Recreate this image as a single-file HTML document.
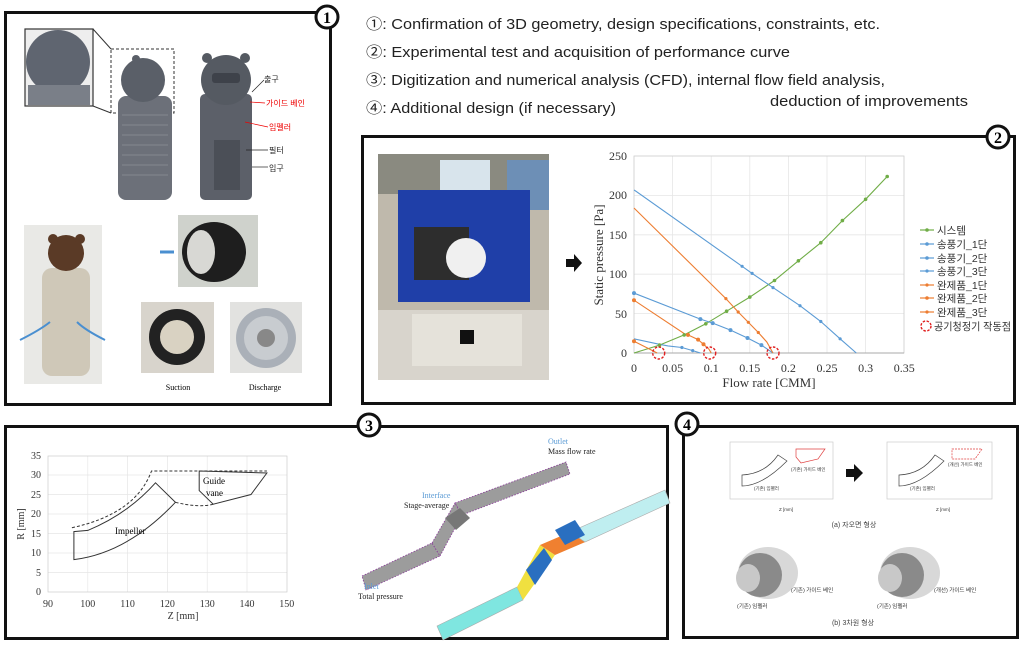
<!DOCTYPE html>
<html><head><meta charset="utf-8"><style>
html,body{margin:0;padding:0;background:#fff;width:1024px;height:645px;overflow:hidden}
svg{display:block}
.s{font-family:"Liberation Serif",serif}
.k{font-family:"Liberation Sans","Noto Sans CJK KR",sans-serif}
</style></head><body>
<svg width="1024" height="645" viewBox="0 0 1024 645" xmlns="http://www.w3.org/2000/svg">
<rect width="1024" height="645" fill="#fff"/>

<!-- Top text -->
<g class="k" font-size="15" fill="#222">
<text x="366" y="29" textLength="514" lengthAdjust="spacingAndGlyphs">①: Confirmation of 3D geometry, design specifications, constraints, etc.</text>
<text x="366" y="57" textLength="424" lengthAdjust="spacingAndGlyphs">②: Experimental test and acquisition of performance curve</text>
<text x="366" y="85" textLength="519" lengthAdjust="spacingAndGlyphs">③: Digitization and numerical analysis (CFD), internal flow field analysis,</text>
<text x="770" y="106" textLength="198" lengthAdjust="spacingAndGlyphs">deduction of improvements</text>
<text x="366" y="113" textLength="250" lengthAdjust="spacingAndGlyphs">④: Additional design (if necessary)</text>
</g>

<!-- Panel 1 -->
<rect x="5.5" y="12.5" width="325" height="392" fill="none" stroke="#111" stroke-width="3"/>
<circle cx="327" cy="17" r="11" fill="#fff" stroke="#111" stroke-width="3"/>
<text x="327" y="23" class="s" font-size="16" font-weight="bold" text-anchor="middle">1</text>
<rect x="25" y="29" width="68" height="77" fill="#eee" stroke="#333" stroke-width="1.2"/>
<circle cx="58" cy="62" r="32" fill="#5f6570"/>
<rect x="28" y="85" width="62" height="20" fill="#7a7f88"/>
<line x1="93" y1="29" x2="111" y2="49" stroke="#333"/><line x1="93" y1="106" x2="111" y2="113" stroke="#333"/>
<rect x="111" y="49" width="63" height="64" fill="none" stroke="#333" stroke-dasharray="3,2"/>
<rect x="118" y="96" width="54" height="104" rx="8" fill="#6c7079"/>
<g stroke="#9aa0a8" stroke-width="0.6">
<line x1="122" y1="115" x2="168" y2="115"/><line x1="122" y1="125" x2="168" y2="125"/><line x1="122" y1="135" x2="168" y2="135"/><line x1="122" y1="145" x2="168" y2="145"/><line x1="122" y1="155" x2="168" y2="155"/><line x1="122" y1="165" x2="168" y2="165"/><line x1="122" y1="175" x2="168" y2="175"/>
</g>
<circle cx="143" cy="80" r="22" fill="#5a5f68"/>
<circle cx="136" cy="59" r="4" fill="#5a5f68"/>
<rect x="200" y="94" width="52" height="106" rx="5" fill="#5c6069"/>
<circle cx="226" cy="80" r="25" fill="#555a62"/>
<circle cx="207" cy="58" r="5" fill="#555a62"/><circle cx="245" cy="58" r="5" fill="#555a62"/>
<rect x="212" y="73" width="28" height="10" rx="3" fill="#3e424a"/>
<rect x="214" y="140" width="26" height="50" fill="#4b4f57"/>
<g class="k" font-size="8">
<text x="264" y="82" fill="#222">출구</text>
<text x="266" y="106" fill="#e00">가이드 베인</text>
<text x="269" y="130" fill="#e00">임펠러</text>
<text x="269" y="153" fill="#222">필터</text>
<text x="269" y="171" fill="#222">입구</text>
</g>
<g stroke="#222" stroke-width="0.7"><line x1="252" y1="92" x2="264" y2="80"/><line x1="252" y1="167" x2="268" y2="167"/><line x1="246" y1="150" x2="268" y2="150"/></g>
<g stroke="#e00" stroke-width="0.7"><line x1="250" y1="102" x2="265" y2="103"/><line x1="245" y1="122" x2="268" y2="127"/></g>
<rect x="24" y="225" width="78" height="159" fill="#e9e9e6"/>
<rect x="42" y="268" width="48" height="108" rx="10" fill="#cfc8b8"/>
<circle cx="66" cy="253" r="18" fill="#5a3a26"/>
<circle cx="53" cy="239" r="5" fill="#5a3a26"/><circle cx="80" cy="239" r="5" fill="#5a3a26"/>
<path d="M20 340 Q40 330 50 322 M105 340 Q85 330 77 322" stroke="#4a8fd0" stroke-width="2" fill="none"/>
<rect x="178" y="215" width="80" height="72" fill="#cfd2cc"/>
<ellipse cx="214" cy="252" rx="32" ry="30" fill="#1e1e1e"/>
<ellipse cx="201" cy="252" rx="14" ry="22" fill="#d8d8d4"/>
<path d="M160 252 H174" stroke="#4a8fd0" stroke-width="3"/>
<rect x="141" y="302" width="73" height="71" fill="#d8d4cc"/>
<circle cx="177" cy="337" r="28" fill="#222"/><circle cx="177" cy="337" r="17" fill="#d9d2c2"/>
<rect x="230" y="302" width="72" height="71" fill="#e2e2e0"/>
<circle cx="266" cy="338" r="30" fill="#aab0b8"/><circle cx="266" cy="338" r="22" fill="#c8ccd0"/><circle cx="266" cy="338" r="9" fill="#888"/>
<text x="178" y="390" class="s" font-size="8" text-anchor="middle">Suction</text>
<text x="265" y="390" class="s" font-size="8" text-anchor="middle">Discharge</text>

<!-- Panel 2 -->
<rect x="362.5" y="136.5" width="652" height="267" fill="none" stroke="#111" stroke-width="3"/>
<circle cx="998" cy="137" r="11" fill="#fff" stroke="#111" stroke-width="3"/>
<text x="998" y="143" class="s" font-size="16" font-weight="bold" text-anchor="middle">2</text>
<rect x="378" y="154" width="171" height="226" fill="#bfb9ac"/>
<rect x="378" y="154" width="171" height="40" fill="#8a8a80"/>
<rect x="440" y="160" width="50" height="35" fill="#d8e4ec"/>
<rect x="507" y="160" width="42" height="50" fill="#6d8fb6"/>
<rect x="378" y="310" width="171" height="70" fill="#d8d4cc"/>
<rect x="398" y="190" width="132" height="112" fill="#1f3fa8"/>
<rect x="414" y="227" width="55" height="53" fill="#2d2d2d"/>
<circle cx="466" cy="258" r="20" fill="#f0f0f0"/>
<rect x="412" y="314" width="110" height="52" fill="#e5e2da"/>
<rect x="460" y="330" width="14" height="14" fill="#111"/>
<path d="M566 259 H574 V254 L582 263 L574 272 V267 H566 Z" fill="#111"/>
<g stroke="#e6e6e6" stroke-width="0.8">
<line x1="672.6" y1="156" x2="672.6" y2="353"/><line x1="711.2" y1="156" x2="711.2" y2="353"/><line x1="749.8" y1="156" x2="749.8" y2="353"/><line x1="788.4" y1="156" x2="788.4" y2="353"/><line x1="827" y1="156" x2="827" y2="353"/><line x1="865.6" y1="156" x2="865.6" y2="353"/>
<line x1="634" y1="313.6" x2="904" y2="313.6"/><line x1="634" y1="274.2" x2="904" y2="274.2"/><line x1="634" y1="234.8" x2="904" y2="234.8"/><line x1="634" y1="195.4" x2="904" y2="195.4"/>
</g>
<rect x="634" y="156" width="270" height="197" fill="none" stroke="#ccc" stroke-width="0.8"/>
<line x1="634" y1="353" x2="904" y2="353" stroke="#aaa"/>
<g class="s" font-size="12" fill="#333" text-anchor="end">
<text x="627" y="357">0</text><text x="627" y="318">50</text><text x="627" y="278">100</text><text x="627" y="239">150</text><text x="627" y="199">200</text><text x="627" y="160">250</text>
</g>
<g class="s" font-size="12" fill="#333" text-anchor="middle">
<text x="634" y="372">0</text><text x="672.6" y="372">0.05</text><text x="711.2" y="372">0.1</text><text x="749.8" y="372">0.15</text><text x="788.4" y="372">0.2</text><text x="827" y="372">0.25</text><text x="865.6" y="372">0.3</text><text x="904.2" y="372">0.35</text>
<text x="769" y="387" font-size="13">Flow rate [CMM]</text>
<text transform="translate(603,255) rotate(-90)" font-size="13">Static pressure [Pa]</text>
</g>
<g fill="none" stroke-width="1.1">
<polyline stroke="#70ad47" points="634,353 659.5,345.1 684.2,334.9 705.8,323.8 726.6,311.2 749.8,297.1 774.5,280.5 798.4,260.8 820.8,242.7 842.4,220.6 865.6,199.3 887.2,176.5"/>
<polyline stroke="#5b9bd5" points="634,189.9 742.1,266.3 752.1,273.4 773,287.6 800,305.7 820.8,321.5 840.1,338.8 856.3,353"/>
<polyline stroke="#5b9bd5" points="634,293.1 700.4,319.1 712.7,323.1 730.5,330.1 747.5,338 761.4,345.1 773,353"/>
<polyline stroke="#5b9bd5" points="634,338.8 659.5,344.3 668,345.9 681.9,347.5 692.7,350.6 700.4,353"/>
<polyline stroke="#ed7d31" points="634,208 725.9,298.6 738.2,312 748.3,322.3 758.3,332.5 766.8,342 773,353"/>
<polyline stroke="#ed7d31" points="634,300.2 685,334.1 688,334.9 698.1,339.6 703.5,344.3 708.9,349.1 711.2,353"/>
<polyline stroke="#ed7d31" points="634,341.2 657.2,353"/>
</g>
<g fill="#70ad47"><circle cx="659.5" cy="345.1" r="1.8"/><circle cx="684.2" cy="334.9" r="1.8"/><circle cx="705.8" cy="323.8" r="1.8"/><circle cx="726.6" cy="311.2" r="1.8"/><circle cx="749.8" cy="297.1" r="1.8"/><circle cx="774.5" cy="280.5" r="1.8"/><circle cx="798.4" cy="260.8" r="1.8"/><circle cx="820.8" cy="242.7" r="1.8"/><circle cx="842.4" cy="220.6" r="1.8"/><circle cx="865.6" cy="199.3" r="1.8"/><circle cx="887.2" cy="176.5" r="1.8"/></g>
<g fill="#5b9bd5"><circle cx="742.1" cy="266.3" r="1.6"/><circle cx="752.1" cy="273.4" r="1.6"/><circle cx="773" cy="287.6" r="1.6"/><circle cx="800" cy="305.7" r="1.6"/><circle cx="820.8" cy="321.5" r="1.6"/><circle cx="840.1" cy="338.8" r="1.6"/><circle cx="634" cy="293.1" r="2"/><circle cx="700.4" cy="319.1" r="2"/><circle cx="712.7" cy="323.1" r="2"/><circle cx="730.5" cy="330.1" r="2"/><circle cx="747.5" cy="338" r="2"/><circle cx="761.4" cy="345.1" r="2"/><circle cx="681.9" cy="347.5" r="1.6"/><circle cx="692.7" cy="350.6" r="1.6"/></g>
<g fill="#ed7d31"><circle cx="725.9" cy="298.6" r="1.6"/><circle cx="738.2" cy="312" r="1.6"/><circle cx="748.3" cy="322.3" r="1.6"/><circle cx="758.3" cy="332.5" r="1.6"/><circle cx="634" cy="300.2" r="2"/><circle cx="688" cy="334.9" r="2"/><circle cx="698.1" cy="339.6" r="2"/><circle cx="703.5" cy="344.3" r="2"/><circle cx="634" cy="341.2" r="2"/></g>
<g fill="none" stroke="#e02020" stroke-width="1.4" stroke-dasharray="2.5,1.5">
<circle cx="658.7" cy="353" r="6"/><circle cx="709.7" cy="353" r="6"/><circle cx="773" cy="353" r="6"/>
<circle cx="926" cy="326" r="5"/>
</g>
<g stroke-width="1.2">
<line x1="920" y1="230" x2="934" y2="230" stroke="#70ad47"/><line x1="920" y1="244" x2="934" y2="244" stroke="#5b9bd5"/><line x1="920" y1="258" x2="934" y2="258" stroke="#5b9bd5"/><line x1="920" y1="271" x2="934" y2="271" stroke="#5b9bd5"/>
<line x1="920" y1="285" x2="934" y2="285" stroke="#ed7d31"/><line x1="920" y1="298" x2="934" y2="298" stroke="#ed7d31"/><line x1="920" y1="312" x2="934" y2="312" stroke="#ed7d31"/>
</g>
<g fill="#70ad47"><circle cx="927" cy="230" r="1.8"/></g>
<g fill="#5b9bd5"><circle cx="927" cy="244" r="1.8"/><circle cx="927" cy="258" r="1.8"/><circle cx="927" cy="271" r="1.6"/></g>
<g fill="#ed7d31"><circle cx="927" cy="285" r="1.6"/><circle cx="927" cy="298" r="1.8"/><circle cx="927" cy="312" r="1.6"/></g>
<g class="k" font-size="10.5" fill="#333">
<text x="937" y="234">시스템</text><text x="937" y="248">송풍기_1단</text><text x="937" y="262">송풍기_2단</text><text x="937" y="275">송풍기_3단</text>
<text x="937" y="289">완제품_1단</text><text x="937" y="302">완제품_2단</text><text x="937" y="316">완제품_3단</text><text x="934" y="330" textLength="77" lengthAdjust="spacingAndGlyphs">공기청정기 작동점</text>
</g>

<!-- Panel 3 -->
<rect x="5.5" y="426.5" width="662" height="212" fill="none" stroke="#111" stroke-width="3"/>
<circle cx="369" cy="425" r="11" fill="#fff" stroke="#111" stroke-width="3"/>
<text x="369" y="431" class="s" font-size="16" font-weight="bold" text-anchor="middle">3</text>
<g stroke="#e6e6e6" stroke-width="0.7">
<line x1="87.8" y1="456" x2="87.8" y2="592"/><line x1="127.6" y1="456" x2="127.6" y2="592"/><line x1="167.4" y1="456" x2="167.4" y2="592"/><line x1="207.2" y1="456" x2="207.2" y2="592"/><line x1="247" y1="456" x2="247" y2="592"/>
<line x1="48" y1="572.5" x2="287" y2="572.5"/><line x1="48" y1="553" x2="287" y2="553"/><line x1="48" y1="533.5" x2="287" y2="533.5"/><line x1="48" y1="514" x2="287" y2="514"/><line x1="48" y1="494.5" x2="287" y2="494.5"/><line x1="48" y1="475" x2="287" y2="475"/>
</g>
<rect x="48" y="456" width="239" height="136" fill="none" stroke="#ccc" stroke-width="0.7"/>
<g class="s" font-size="10" fill="#333" text-anchor="end">
<text x="41" y="595">0</text><text x="41" y="576">5</text><text x="41" y="556">10</text><text x="41" y="537">15</text><text x="41" y="517">20</text><text x="41" y="498">25</text><text x="41" y="478">30</text><text x="41" y="459">35</text>
</g>
<g class="s" font-size="10" fill="#333" text-anchor="middle">
<text x="48" y="607">90</text><text x="87.8" y="607">100</text><text x="127.6" y="607">110</text><text x="167.4" y="607">120</text><text x="207.2" y="607">130</text><text x="247" y="607">140</text><text x="286.8" y="607">150</text>
<text x="183" y="619">Z [mm]</text>
<text transform="translate(24,524) rotate(-90)">R [mm]</text>
</g>
<g fill="none" stroke="#333" stroke-width="1">
<path d="M73.9 531.6 L73.9 559.6 Q127.6 553 175.4 502.3 L155.5 482.8 Q127.6 514 87.8 530.4 Z"/>
<path d="M199.2 471 L266.9 473 L251 494.5 L213.2 504.2 L199.2 490.6 Z"/>
<g stroke-dasharray="3,2"><path d="M71.9 527.7 Q135.6 514 151.5 471 H266.9"/><path d="M175.4 502.3 Q199 508 213.2 504.2"/></g>
</g>
<text x="115" y="534" class="s" font-size="9">Impeller</text>
<text x="203" y="484" class="s" font-size="9">Guide</text><text x="206" y="496" class="s" font-size="9">vane</text>
<g fill="#9c9c9c" stroke="#8a3a9a" stroke-width="0.8" stroke-dasharray="1.5,1.5">
<polygon points="362,576 432,543 440,556 366,590"/>
<polygon points="432,543 455,503 462,515 440,556"/>
<polygon points="455,503 566,462 570,474 462,515"/>
</g>
<polygon points="445,518 460,508 470,518 456,530" fill="#777"/>
<polygon points="437,626 517,587 523,600 443,640" fill="#7fe6e0" stroke="#aaa" stroke-width="0.6"/>
<polygon points="517,587 540,545 555,555 523,600" fill="#f0e040"/>
<polygon points="526,570 544,548 552,560 535,585" fill="#2a6fc0"/>
<polygon points="540,545 575,530 590,540 555,555" fill="#f08030"/>
<polygon points="570,532 665,490 670,503 585,542" fill="#bfeef0" stroke="#aaa" stroke-width="0.6"/>
<polygon points="555,530 575,520 585,535 565,545" fill="#2a6fc0"/>
<g class="s" font-size="8">
<text x="548" y="444" fill="#5b9bd5">Outlet</text><text x="548" y="454" fill="#222">Mass flow rate</text>
<text x="422" y="498" fill="#5b9bd5">Interface</text><text x="404" y="508" fill="#222">Stage-average</text>
<text x="364" y="589" fill="#5b9bd5">Inlet</text><text x="358" y="599" fill="#222">Total pressure</text>
</g>

<!-- Panel 4 -->
<rect x="683.5" y="426.5" width="334" height="211" fill="none" stroke="#111" stroke-width="3"/>
<circle cx="687" cy="424" r="11" fill="#fff" stroke="#111" stroke-width="3"/>
<text x="687" y="430" class="s" font-size="16" font-weight="bold" text-anchor="middle">4</text>
<g fill="none" stroke-width="0.7">
<rect x="730" y="442" width="103" height="57" stroke="#ccc"/>
<rect x="887" y="442" width="105" height="57" stroke="#ccc"/>
<path d="M742 475 V486 Q762 486 787 461 L778 455 Q765 474 742 475 Z" stroke="#444"/>
<path d="M899 475 V486 Q919 486 944 461 L935 455 Q922 474 899 475 Z" stroke="#444"/>
<path d="M796 449 L825 449 L818 459 L801 463 L796 457 Z" stroke="#e04040"/>
<path d="M952 449 L982 449 L975 459 L952 459 Z" stroke="#e04040" stroke-dasharray="2,1"/>
</g>
<g class="k" font-size="4.5" fill="#333">
<text x="754" y="490">(기존) 임펠러</text><text x="791" y="471">(기존) 가이드 베인</text>
<text x="910" y="490">(기존) 임펠러</text><text x="948" y="466">(개선) 가이드 베인</text>
<text x="779" y="511">Z [mm]</text><text x="936" y="511">Z [mm]</text>
</g>
<path d="M846 469 H854 V464 L863 473 L854 482 V477 H846 Z" fill="#111"/>
<text x="854" y="527" class="k" font-size="7" fill="#444" text-anchor="middle">(a) 자오면 형상</text>
<g>
<ellipse cx="768" cy="573" rx="30" ry="26" fill="#d8d8d8"/>
<ellipse cx="760" cy="575" rx="22" ry="22" fill="#8a8a8a"/>
<ellipse cx="748" cy="578" rx="12" ry="14" fill="#c8c8c8"/>
<ellipse cx="910" cy="573" rx="30" ry="26" fill="#d8d8d8"/>
<ellipse cx="902" cy="575" rx="22" ry="22" fill="#8a8a8a"/>
<ellipse cx="890" cy="578" rx="12" ry="14" fill="#c8c8c8"/>
</g>
<g class="k" font-size="5.5" fill="#333">
<text x="791" y="592">(기존) 가이드 베인</text><text x="737" y="608">(기존) 임펠러</text>
<text x="934" y="592">(개선) 가이드 베인</text><text x="877" y="608">(기존) 임펠러</text>
</g>
<text x="853" y="625" class="k" font-size="7" fill="#444" text-anchor="middle">(b) 3차원 형상</text>
</svg>
</body></html>
